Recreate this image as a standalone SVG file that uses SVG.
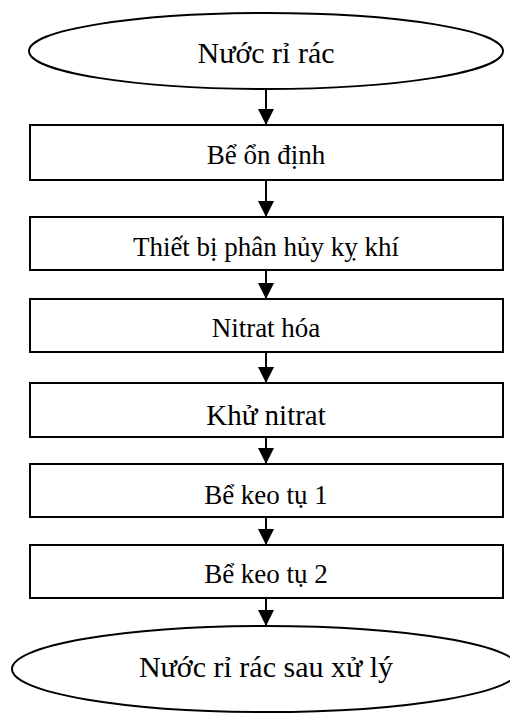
<svg xmlns="http://www.w3.org/2000/svg" width="510" height="713" viewBox="0 0 510 713">
<style>
.shape{fill:#fff;stroke:#000;stroke-width:2}
.lbl{font-family:"Liberation Serif","Times New Roman",serif;font-size:27px;fill:#000;text-anchor:middle}
.big{font-size:30px}
.conn{stroke:#000;stroke-width:2;fill:none}
</style>
<defs>
<marker id="ah" markerUnits="userSpaceOnUse" markerWidth="16" markerHeight="16" refX="16" refY="8" orient="auto" viewBox="0 0 16 16">
<path d="M0,0 L16,8 L0,16 Z" fill="#000"/>
</marker>
</defs>
<rect width="510" height="713" fill="#fff"/>
<g id="n0"><ellipse class="shape" cx="266" cy="51" rx="237" ry="38"/><text class="lbl big" x="266" y="63">Nước rỉ rác</text></g>
<g id="n1"><rect class="shape" x="30" y="125" width="473" height="55"/><text class="lbl" x="266" y="164">Bể ổn định</text></g>
<g id="n2"><rect class="shape" x="30" y="217" width="473" height="53"/><text class="lbl" x="266" y="256">Thiết bị phân hủy kỵ khí</text></g>
<g id="n3"><rect class="shape" x="30" y="299" width="473" height="53"/><text class="lbl" x="266" y="337">Nitrat hóa</text></g>
<g id="n4"><rect class="shape" x="30" y="383" width="473" height="54"/><text class="lbl" style="font-size:29px" x="266" y="425">Khử nitrat</text></g>
<g id="n5"><rect class="shape" x="30" y="464" width="473" height="53"/><text class="lbl" x="266" y="504">Bể keo tụ 1</text></g>
<g id="n6"><rect class="shape" x="30" y="545" width="473" height="53"/><text class="lbl" x="266" y="583">Bể keo tụ 2</text></g>
<g id="n7"><ellipse class="shape" cx="266" cy="669" rx="254" ry="43"/><text class="lbl big" x="266" y="677">Nước rỉ rác sau xử lý</text></g>
<g id="connectors">
<line class="conn" x1="266" y1="89" x2="266" y2="125" marker-end="url(#ah)"/>
<line class="conn" x1="266" y1="180" x2="266" y2="217" marker-end="url(#ah)"/>
<line class="conn" x1="266" y1="270" x2="266" y2="299" marker-end="url(#ah)"/>
<line class="conn" x1="266" y1="352" x2="266" y2="383" marker-end="url(#ah)"/>
<line class="conn" x1="266" y1="437" x2="266" y2="464" marker-end="url(#ah)"/>
<line class="conn" x1="266" y1="517" x2="266" y2="545" marker-end="url(#ah)"/>
<line class="conn" x1="266" y1="598" x2="266" y2="626" marker-end="url(#ah)"/>
</g>
</svg>
